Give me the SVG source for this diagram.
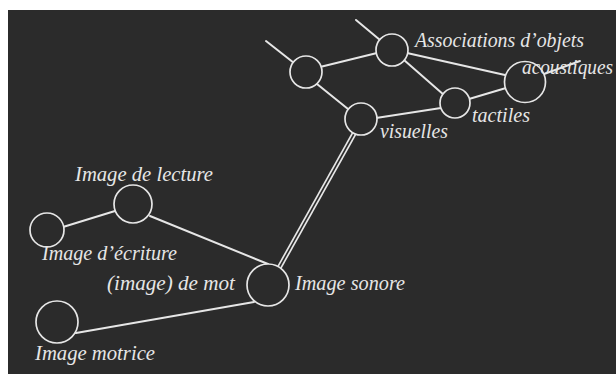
<svg xmlns="http://www.w3.org/2000/svg" width="616" height="374" viewBox="0 0 616 374">
<style>
.bg{fill:#2b2b2b}
.n{fill:#2b2b2b;stroke:#e6e6e6;stroke-width:1.7}
.c{stroke:#e6e6e6;stroke-width:2;fill:none;stroke-linecap:round}
.dbl{stroke:#e6e6e6;stroke-width:5;fill:none}
.dbli{stroke:#2b2b2b;stroke-width:1.6;fill:none}
text{font-family:"Liberation Serif","Times New Roman",serif;font-style:italic;font-size:20px;fill:#e6e6e6}
</style>
<rect width="616" height="374" fill="#ffffff"/>
<rect class="bg" x="8" y="10" width="608" height="364"/>
<g id="connectors">
<line class="c" x1="266" y1="41" x2="294" y2="63"/>
<line class="c" x1="356" y1="20" x2="380" y2="40"/>
<line class="c" x1="320" y1="67" x2="377" y2="53"/>
<line class="c" x1="407" y1="53" x2="505" y2="75"/>
<line class="c" x1="404" y1="60" x2="444" y2="95"/>
<line class="c" x1="469" y1="99" x2="506" y2="88"/>
<line class="c" x1="317" y1="84" x2="348" y2="109"/>
<line class="c" x1="376" y1="118" x2="441" y2="108"/>
<line class="c" x1="544" y1="74" x2="580" y2="61"/>
<line class="dbl" x1="355" y1="132" x2="279" y2="268"/>
<line class="dbli" x1="355" y1="132" x2="279" y2="268"/>
<line class="c" x1="150" y1="216" x2="268" y2="264"/>
<line class="c" x1="63" y1="227" x2="115" y2="211"/>
<line class="c" x1="76" y1="333" x2="254" y2="302"/>
</g>
<g id="node-a"><circle class="n" cx="306" cy="72" r="16"/></g>
<g id="node-associations"><circle class="n" cx="392" cy="50" r="16"/><text x="415" y="47" textLength="169" lengthAdjust="spacingAndGlyphs">Associations d’objets</text></g>
<g id="node-acoustiques"><circle class="n" cx="525" cy="82" r="20.5"/><text x="522" y="74" textLength="91" lengthAdjust="spacingAndGlyphs">acoustiques</text></g>
<g id="node-tactiles"><circle class="n" cx="455" cy="103" r="15"/><text x="472" y="122" textLength="58" lengthAdjust="spacingAndGlyphs">tactiles</text></g>
<g id="node-visuelles"><circle class="n" cx="361" cy="119" r="16"/><text x="380" y="138" textLength="68" lengthAdjust="spacingAndGlyphs">visuelles</text></g>
<g id="node-ecriture"><circle class="n" cx="47" cy="230" r="17"/><text x="42" y="260" textLength="135" lengthAdjust="spacingAndGlyphs">Image d’écriture</text></g>
<g id="node-lecture"><circle class="n" cx="133" cy="204" r="19"/><text x="75" y="181" textLength="138" lengthAdjust="spacingAndGlyphs">Image de lecture</text></g>
<g id="node-sonore"><circle class="n" cx="268" cy="285" r="21"/><text x="295" y="290" textLength="110" lengthAdjust="spacingAndGlyphs">Image sonore</text><text x="107" y="290" textLength="128" lengthAdjust="spacingAndGlyphs">(image) de mot</text></g>
<g id="node-motrice"><circle class="n" cx="57" cy="322" r="21"/><text x="35" y="360" textLength="120" lengthAdjust="spacingAndGlyphs">Image motrice</text></g>
</svg>
